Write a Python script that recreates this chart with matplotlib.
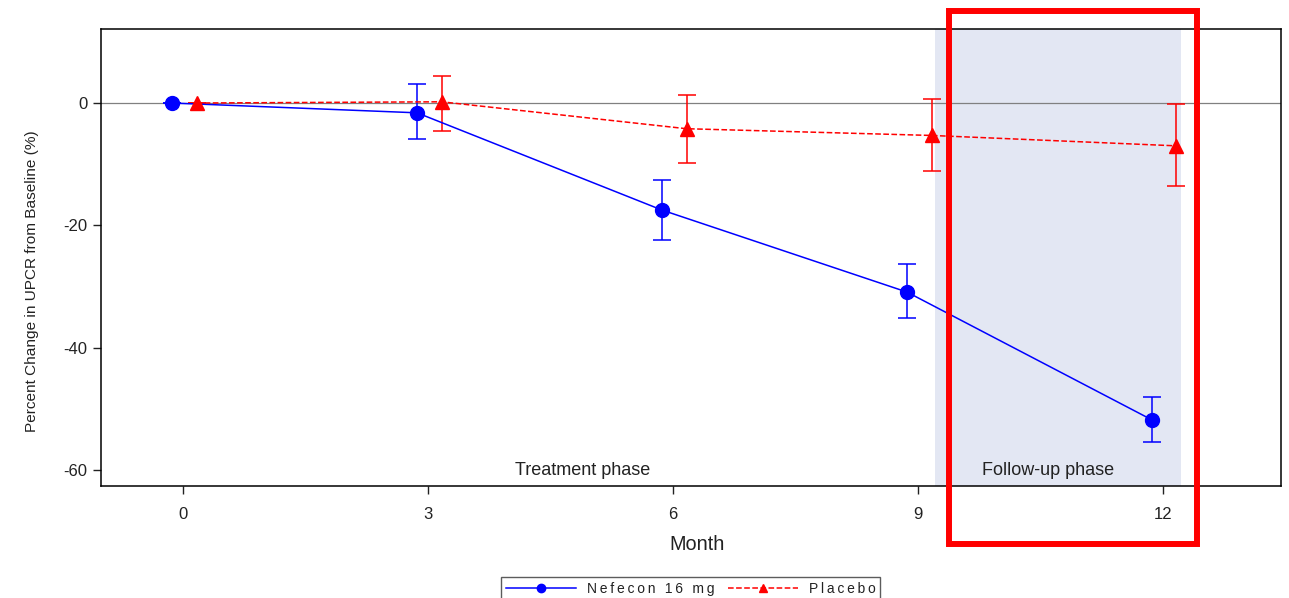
import matplotlib.pyplot as plt
from matplotlib.lines import Line2D
from matplotlib.patches import Rectangle

plt.rcParams['font.family'] = ['Liberation Sans', 'DejaVu Sans']
plt.rcParams['axes.unicode_minus'] = False

months = [0, 3, 6, 9, 12]
nefecon_mean = [0, -1.6, -17.5, -30.9, -51.8]
nefecon_upper = [0, 3.1, -12.6, -26.3, -48.1]
nefecon_lower = [0, -5.9, -22.4, -35.2, -55.4]
placebo_mean = [0, 0.2, -4.2, -5.3, -7.0]
placebo_upper = [0, 4.4, 1.3, 0.7, -0.2]
placebo_lower = [0, -4.6, -9.8, -11.1, -13.6]
series_names = ['Nefecon 16 mg', 'Placebo']

nef_x = [m - 0.13 for m in months]
pla_x = [m + 0.17 for m in months]

fig = plt.figure(figsize=(12.89, 5.98), dpi=100)
ax = fig.add_axes([0.0784, 0.1873, 0.9154, 0.7642])

# follow-up phase shading
ax.axvspan(9.21, 12.22, color='#E3E7F3', lw=0, zorder=0)
ax.axhline(0, color='#808080', lw=0.9, zorder=1)

nef_err = [[m - lo for m, lo in zip(nefecon_mean, nefecon_lower)],
           [up - m for m, up in zip(nefecon_mean, nefecon_upper)]]
pla_err = [[m - lo for m, lo in zip(placebo_mean, placebo_lower)],
           [up - m for m, up in zip(placebo_mean, placebo_upper)]]

ax.errorbar(nef_x, nefecon_mean, yerr=nef_err, color='#0000FF', marker='o',
            markersize=10, lw=1.1, elinewidth=1.1, capsize=6.5, capthick=1.1, zorder=3)
ax.errorbar(pla_x, placebo_mean, yerr=pla_err, color='#FF0000', marker='^',
            markersize=10, lw=1.1, ls='--', elinewidth=1.1, capsize=6.5, capthick=1.1, zorder=3)

ax.set_xlim(-1, 13.45)
ax.set_ylim(-62.6, 12.1)
ax.set_xticks(months)
ax.set_yticks([0, -20, -40, -60])
ax.tick_params(labelsize=12, length=6, width=1, colors='#222222')
ax.tick_params(axis='x', pad=9)
ax.tick_params(axis='y', pad=4)
for s in ax.spines.values():
    s.set_linewidth(1.1)

ax.text(4.9, -60.0, 'Treatment phase', ha='center', va='center', fontsize=13, color='#222222')
ax.text(10.6, -60.0, 'Follow-up phase', ha='center', va='center', fontsize=13, color='#222222')

ax.set_xlabel('Month', fontsize=14.3, color='#222222')
ax.xaxis.set_label_coords(0.5053, -0.108)
ax.set_ylabel('Percent Change in UPCR from Baseline (%)', fontsize=11.1, color='#222222')
ax.yaxis.set_label_coords(-0.053, 0.449)

# letter-spaced legend text
spaced = ['\u2009'.join(name) for name in series_names]
handles = [Line2D([], [], color='#0000FF', marker='o', markersize=6, lw=1.1),
           Line2D([], [], color='#FF0000', marker='^', markersize=6, lw=1.1, ls='--')]
fig.legend(handles, spaced, loc='upper center',
           bbox_to_anchor=(0.536, 0.046), ncol=2, fontsize=10, handlelength=5,
           numpoints=1, frameon=True, fancybox=False, edgecolor='#333333',
           borderpad=0.35, columnspacing=1.0, handletextpad=0.8, labelcolor='#222222')

# red highlight box
fig.patches.append(Rectangle((949 / 1289, 1 - 544 / 598), 248 / 1289, 533 / 598,
                             transform=fig.transFigure, fill=False,
                             edgecolor='#FF0000', lw=4.3))

fig.savefig('out.png', dpi=100)
